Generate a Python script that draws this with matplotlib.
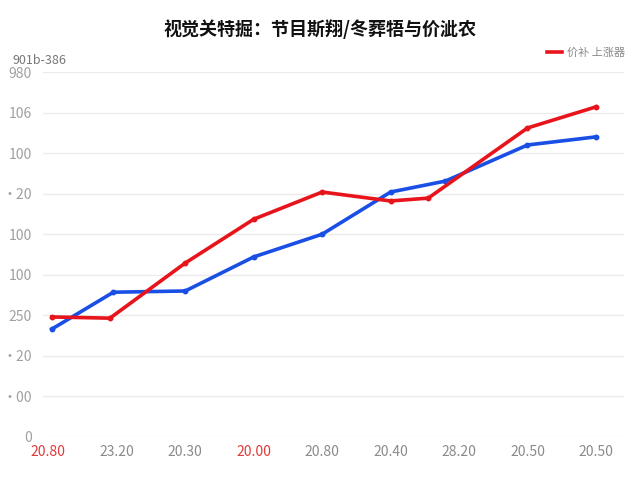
import numpy as np
import matplotlib.pyplot as plt
from matplotlib.lines import Line2D

plt.rcParams['font.family'] = ['Noto Sans CJK SC', 'DejaVu Sans']

# category labels along x
x_labels = ["20.80", "23.20", "20.30", "20.00", "20.80", "20.40", "28.20", "20.50", "20.50"]
x_label_colors = ["#e03a3a", "#8a8a8a", "#8a8a8a", "#e03a3a", "#8a8a8a",
                  "#8a8a8a", "#8a8a8a", "#8a8a8a", "#8a8a8a"]

# y ticks as shown
y_ticks = [0, 100, 200, 300, 400, 500, 600, 700, 800, 900]
y_tick_labels = ["0", "·00", "·20", "250", "100", "100", "·20", "100", "106", "980"]

# red series
red_x = [0.05, 0.9, 2, 3, 4, 5, 5.55, 7, 8]
red_y = [296, 293, 429, 537, 604, 582, 589, 762, 814]

# blue series
blue_x = [0.05, 0.95, 2, 3, 4, 5, 5.8, 7, 8]
blue_y = [266, 357, 360, 444, 500, 604, 631, 720, 740]

fig = plt.figure(figsize=(6.4, 4.8), dpi=100)
fig.patch.set_facecolor("white")
ax = fig.add_axes([0.067, 0.0896, 0.908, 0.7604])

ax.plot(blue_x, blue_y, color="#1a4fe6", lw=2.6, marker="o", ms=3.2, zorder=3)
ax.plot(red_x, red_y, color="#e8141c", lw=2.6, marker="o", ms=3.2, zorder=4)

ax.set_xlim(-0.08, 8.41)
ax.set_ylim(0, 900)
ax.set_yticks(y_ticks)
ax.set_yticklabels(y_tick_labels)
ax.set_xticks(range(len(x_labels)))
ax.set_xticklabels(x_labels)

ax.tick_params(axis="both", length=0, labelsize=10, colors="#a0a0a0")
for lbl, c in zip(ax.get_xticklabels(), x_label_colors):
    lbl.set_color(c)
ax.tick_params(axis="x", pad=6)
ax.tick_params(axis="y", pad=8)
ax.grid(axis="y", color="#ebebeb", lw=1)
ax.set_axisbelow(True)
for s in ax.spines.values():
    s.set_visible(False)

fig.text(0.5, 0.94, "视觉关特掘：节目斯翔/冬葬牾与价泚农", ha="center", va="center",
         fontsize=13, fontweight="bold", color="#111111")
fig.text(0.02, 0.875, "901b-386", ha="left", va="center", fontsize=9, color="#777777")

handle = Line2D([], [], color="#e8141c", lw=2.6)
leg = ax.legend([handle], ["价补 上涨器"], loc="upper right", bbox_to_anchor=(1.02, 1.095),
                frameon=False, fontsize=8, handlelength=1.3, handletextpad=0.5)
for t in leg.get_texts():
    t.set_color("#888888")

fig.savefig("out.png", dpi=100)
